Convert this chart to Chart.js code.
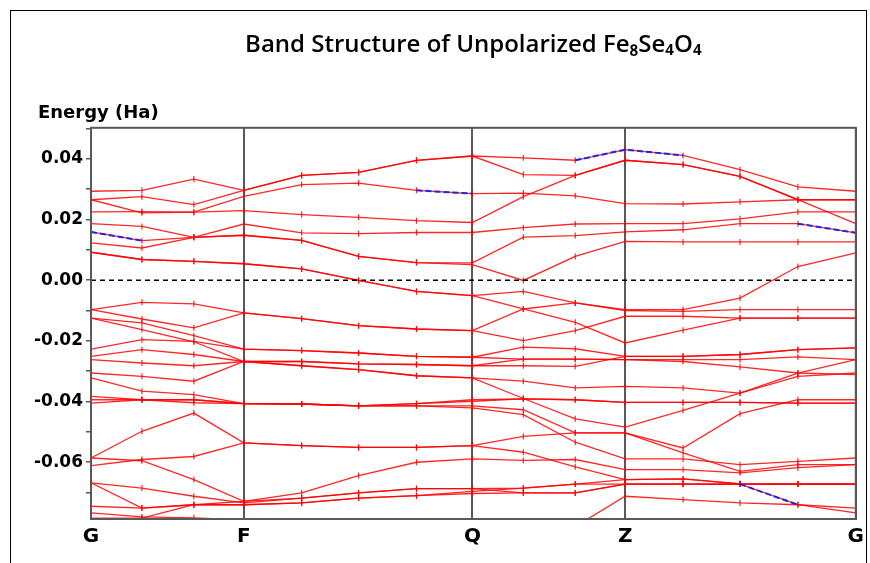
<!DOCTYPE html>
<html>
<head>
<meta charset="utf-8">
<title>Band Structure of Unpolarized Fe8Se4O4</title>
<script src="https://cdn.jsdelivr.net/npm/chart.js@4.4.1/dist/chart.umd.min.js"></script>
<style>
  html, body { margin: 0; padding: 0; background: #fff; }
  #wrap { position: relative; width: 870px; height: 563px; overflow: hidden; }
  #frame { position: absolute; left: 10px; top: 10px; width: 857px; height: 600px; border: 1px solid #000; box-sizing: border-box; }
  #chart { position: absolute; left: 0; top: 0; }
</style>
</head>
<body>
<div id="wrap">
  <div id="frame"></div>
  <canvas id="chart" width="870" height="563"></canvas>
</div>
<script>
// k-path (distance along G-F-Q-Z-G), symmetry points and y ticks
const kPath = [0, 0.051, 0.103, 0.153, 0.211, 0.268, 0.326, 0.382, 0.433, 0.485, 0.535, 0.593, 0.650, 0.708, 0.766];
const symIndex = [0, 3, 7, 10, 14];
const symLabels = ['G', 'F', 'Q', 'Z', 'G'];
const yTickValues = [-0.07, -0.06, -0.05, -0.04, -0.03, -0.02, -0.01, 0, 0.01, 0.02, 0.03, 0.04, 0.05];
const fermiLevel = 0;

// band energies (Ha) at each k-point
const band1 = [0.0293, 0.0296, 0.0333, 0.0296, 0.0345, 0.0355, 0.0395, 0.0409, 0.0403, 0.0395, 0.0430, 0.0411, 0.0364, 0.0307, 0.0293];
const band2 = [0.0265, 0.0275, 0.0249, 0.0296, 0.0345, 0.0355, 0.0395, 0.0409, 0.0348, 0.0345, 0.0395, 0.0381, 0.0342, 0.0265, 0.0186];
const band3 = [0.0225, 0.0226, 0.0224, 0.0276, 0.0315, 0.0320, 0.0296, 0.0285, 0.0287, 0.0278, 0.0252, 0.0251, 0.0258, 0.0265, 0.0265];
const band4 = [0.0265, 0.0222, 0.0224, 0.0229, 0.0216, 0.0207, 0.0196, 0.0190, 0.0275, 0.0345, 0.0395, 0.0381, 0.0342, 0.0265, 0.0265];
const band5 = [0.0186, 0.0177, 0.0141, 0.0185, 0.0156, 0.0153, 0.0157, 0.0157, 0.0173, 0.0185, 0.0186, 0.0186, 0.0202, 0.0225, 0.0225];
const band6 = [0.0159, 0.0130, 0.0141, 0.0148, 0.0131, 0.0078, 0.0058, 0.0051, -0.0001, 0.0078, 0.0128, 0.0126, 0.0126, 0.0126, 0.0126];
const band7 = [0.0123, 0.0106, 0.0141, 0.0148, 0.0131, 0.0078, 0.0058, 0.0057, 0.0142, 0.0147, 0.0159, 0.0166, 0.0186, 0.0186, 0.0156];
const band8 = [0.0092, 0.0068, 0.0062, 0.0054, 0.0037, -0.0001, -0.0037, -0.0051, -0.0037, -0.0075, -0.0097, -0.0097, -0.0059, 0.0045, 0.0090];
const band9 = [0.0092, 0.0068, 0.0062, 0.0054, 0.0037, -0.0001, -0.0037, -0.0051, -0.0095, -0.0139, -0.0207, -0.0165, -0.0125, -0.0125, -0.0125];
const band10 = [-0.0097, -0.0073, -0.0078, -0.0108, -0.0127, -0.0150, -0.0161, -0.0166, -0.0095, -0.0075, -0.0100, -0.0103, -0.0097, -0.0097, -0.0097];
const band11 = [-0.0097, -0.0128, -0.0157, -0.0108, -0.0127, -0.0150, -0.0161, -0.0166, -0.0199, -0.0166, -0.0119, -0.0119, -0.0125, -0.0125, -0.0125];
const band12 = [-0.0125, -0.0141, -0.0183, -0.0227, -0.0232, -0.0240, -0.0251, -0.0254, -0.0221, -0.0226, -0.0251, -0.0251, -0.0245, -0.0229, -0.0223];
const band13 = [-0.0227, -0.0196, -0.0202, -0.0227, -0.0232, -0.0240, -0.0251, -0.0254, -0.0260, -0.0260, -0.0262, -0.0268, -0.0286, -0.0306, -0.0311];
const band14 = [-0.0125, -0.0163, -0.0203, -0.0268, -0.0268, -0.0276, -0.0278, -0.0282, -0.0282, -0.0284, -0.0251, -0.0251, -0.0245, -0.0229, -0.0223];
const band15 = [-0.0251, -0.0229, -0.0245, -0.0268, -0.0268, -0.0276, -0.0278, -0.0282, -0.0260, -0.0260, -0.0262, -0.0262, -0.0262, -0.0253, -0.0262];
const band16 = [-0.0262, -0.0273, -0.0282, -0.0268, -0.0282, -0.0295, -0.0315, -0.0322, -0.0333, -0.0355, -0.0350, -0.0355, -0.0372, -0.0317, -0.0306];
const band17 = [-0.0306, -0.0317, -0.0333, -0.0268, -0.0282, -0.0295, -0.0315, -0.0322, -0.0390, -0.0457, -0.0484, -0.0429, -0.0372, -0.0306, -0.0262];
const band18 = [-0.0322, -0.0366, -0.0377, -0.0407, -0.0408, -0.0414, -0.0407, -0.0394, -0.0391, -0.0394, -0.0403, -0.0403, -0.0403, -0.0405, -0.0405];
const band19 = [-0.0383, -0.0394, -0.0394, -0.0407, -0.0408, -0.0414, -0.0407, -0.0399, -0.0391, -0.0394, -0.0403, -0.0403, -0.0403, -0.0405, -0.0405];
const band20 = [-0.0394, -0.0394, -0.0394, -0.0407, -0.0408, -0.0414, -0.0414, -0.0414, -0.0427, -0.0503, -0.0503, -0.0553, -0.0440, -0.0394, -0.0394];
const band21 = [-0.0405, -0.0394, -0.0404, -0.0407, -0.0408, -0.0414, -0.0414, -0.0421, -0.0443, -0.0534, -0.0589, -0.0589, -0.0608, -0.0597, -0.0586];
const band22 = [-0.0586, -0.0498, -0.0438, -0.0536, -0.0545, -0.0551, -0.0551, -0.0545, -0.0515, -0.0503, -0.0503, -0.0569, -0.0630, -0.0608, -0.0608];
const band23 = [-0.0611, -0.0591, -0.0581, -0.0536, -0.0545, -0.0551, -0.0551, -0.0545, -0.0567, -0.0615, -0.0657, -0.0655, -0.0671, -0.0672, -0.0672];
const band24 = [-0.0586, -0.0595, -0.0657, -0.0729, -0.0701, -0.0644, -0.0600, -0.0589, -0.0594, -0.0591, -0.0624, -0.0624, -0.0635, -0.0618, -0.0608];
const band25 = [-0.0668, -0.0685, -0.0712, -0.0734, -0.0718, -0.0701, -0.0687, -0.0687, -0.0685, -0.0672, -0.0672, -0.0672, -0.0672, -0.0740, -0.0767];
const band26 = [-0.0668, -0.0751, -0.0740, -0.0740, -0.0734, -0.0718, -0.0710, -0.0696, -0.0685, -0.0672, -0.0657, -0.0655, -0.0671, -0.0672, -0.0672];
const band27 = [-0.0745, -0.0751, -0.0740, -0.0740, -0.0734, -0.0718, -0.0710, -0.0703, -0.0701, -0.0701, -0.0672, -0.0672, -0.0672, -0.0672, -0.0672];
const band28 = [-0.0767, -0.0780, -0.0783, -0.0790, -0.0822, -0.0872, -0.0938, -0.1003, -0.0911, -0.0812, -0.0712, -0.0723, -0.0734, -0.0740, -0.0751];
const band29 = [-0.0784, -0.0784, -0.0740, -0.0729, -0.0718, -0.0701, -0.0687, -0.0687, -0.0701, -0.0701, -0.0672, -0.0672, -0.0672, -0.0672, -0.0672];

const bands = [band1, band2, band3, band4, band5, band6, band7, band8, band9, band10,
  band11, band12, band13, band14, band15, band16, band17, band18, band19, band20,
  band21, band22, band23, band24, band25, band26, band27, band28, band29];

// pieces of bands drawn blue dashed: [band, from k index, to k index]
const blueSegments = [[band6, 0, 1], [band3, 6, 7], [band1, 9, 11], [band7, 13, 14], [band25, 12, 13]];

const RED = 'rgba(255, 0, 0, 0.85)';
const AXIS = '#595959';

function bandPoints(values, from = 0, to = values.length - 1) {
  const pts = [];
  for (let i = from; i <= to; i++) pts.push({ x: kPath[i], y: values[i] });
  return pts;
}

const bandDatasets = bands.map((b, i) => ({
  label: 'band ' + (i + 1),
  data: bandPoints(b),
  showLine: true,
  borderColor: RED,
  borderWidth: 1.3,
  pointStyle: 'line',
  rotation: 90,
  pointRadius: 3,
  pointBorderColor: RED,
  pointBorderWidth: 1.2,
  order: 3,
}));

const blueDatasets = blueSegments.map(([b, from, to]) => ({
  label: 'blue',
  data: bandPoints(b, from, to),
  showLine: true,
  borderColor: '#2323e6',
  borderWidth: 2,
  borderDash: [6, 3],
  pointRadius: 0,
  order: 0,
}));

const fermiDataset = {
  label: 'Fermi',
  data: [{ x: kPath[0], y: fermiLevel }, { x: kPath[kPath.length - 1], y: fermiLevel }],
  showLine: true,
  borderColor: '#000',
  borderWidth: 1.5,
  borderDash: [5, 4],
  pointRadius: 0,
  order: 1,
};

// gray frame round the plot area
const plotFrame = {
  id: 'plotFrame',
  afterDraw(chart) {
    const { ctx, chartArea: a } = chart;
    ctx.save();
    ctx.strokeStyle = AXIS;
    ctx.lineWidth = 2;
    ctx.strokeRect(a.left, a.top, a.right - a.left, a.bottom - a.top);
    ctx.restore();
  },
};

// "Energy (Ha)" caption above the y axis
const axisCaption = {
  id: 'axisCaption',
  afterDraw(chart) {
    const ctx = chart.ctx;
    ctx.save();
    ctx.fillStyle = '#000';
    ctx.font = 'bold 18px "DejaVu Sans"';
    ctx.textBaseline = 'middle';
    ctx.fillText('Energy (Ha)', 38, 113);
    ctx.restore();
  },
};

new Chart(document.getElementById('chart'), {
  type: 'scatter',
  data: { datasets: [...blueDatasets, fermiDataset, ...bandDatasets] },
  options: {
    responsive: false,
    animation: false,
    events: [],
    layout: { padding: { left: 28, right: 13, top: 0, bottom: 0 } },
    plugins: {
      legend: { display: false },
      tooltip: { enabled: false },
      title: {
        display: true,
        fullSize: false,
        text: 'Band Structure of Unpolarized Fe₈Se₄O₄',
        color: '#000',
        font: { family: '"Open Sans"', size: 24, weight: '600' },
        padding: { top: 31, bottom: 68 },
      },
    },
    scales: {
      x: {
        type: 'linear',
        min: kPath[0],
        max: kPath[kPath.length - 1],
        afterBuildTicks: (s) => { s.ticks = symIndex.map((i) => ({ value: kPath[i] })); },
        afterFit: (s) => { s.height = 44; },
        ticks: {
          autoSkip: false,
          maxRotation: 0,
          padding: 6,
          color: '#000',
          font: { family: '"DejaVu Sans"', size: 20, weight: 'bold' },
          callback: (v, i) => symLabels[i],
        },
        grid: { color: AXIS, lineWidth: 2, drawTicks: false },
        border: { color: AXIS, width: 2 },
      },
      y: {
        min: -0.0787,
        max: 0.0502,
        afterBuildTicks: (s) => { s.ticks = yTickValues.map((v) => ({ value: v })); },
        afterFit: (s) => { s.width = 63; },
        ticks: {
          padding: 3,
          color: '#000',
          font: { family: '"DejaVu Sans"', size: 17, weight: 'bold' },
          callback: (v) => (Math.round(v * 100) % 2 === 0 ? v.toFixed(2) : ''),
        },
        grid: { drawOnChartArea: false, drawTicks: true, tickLength: 5, color: AXIS, lineWidth: 1.5 },
        border: { color: AXIS, width: 2 },
      },
    },
  },
  plugins: [plotFrame, axisCaption],
});
</script>
</body>
</html>
